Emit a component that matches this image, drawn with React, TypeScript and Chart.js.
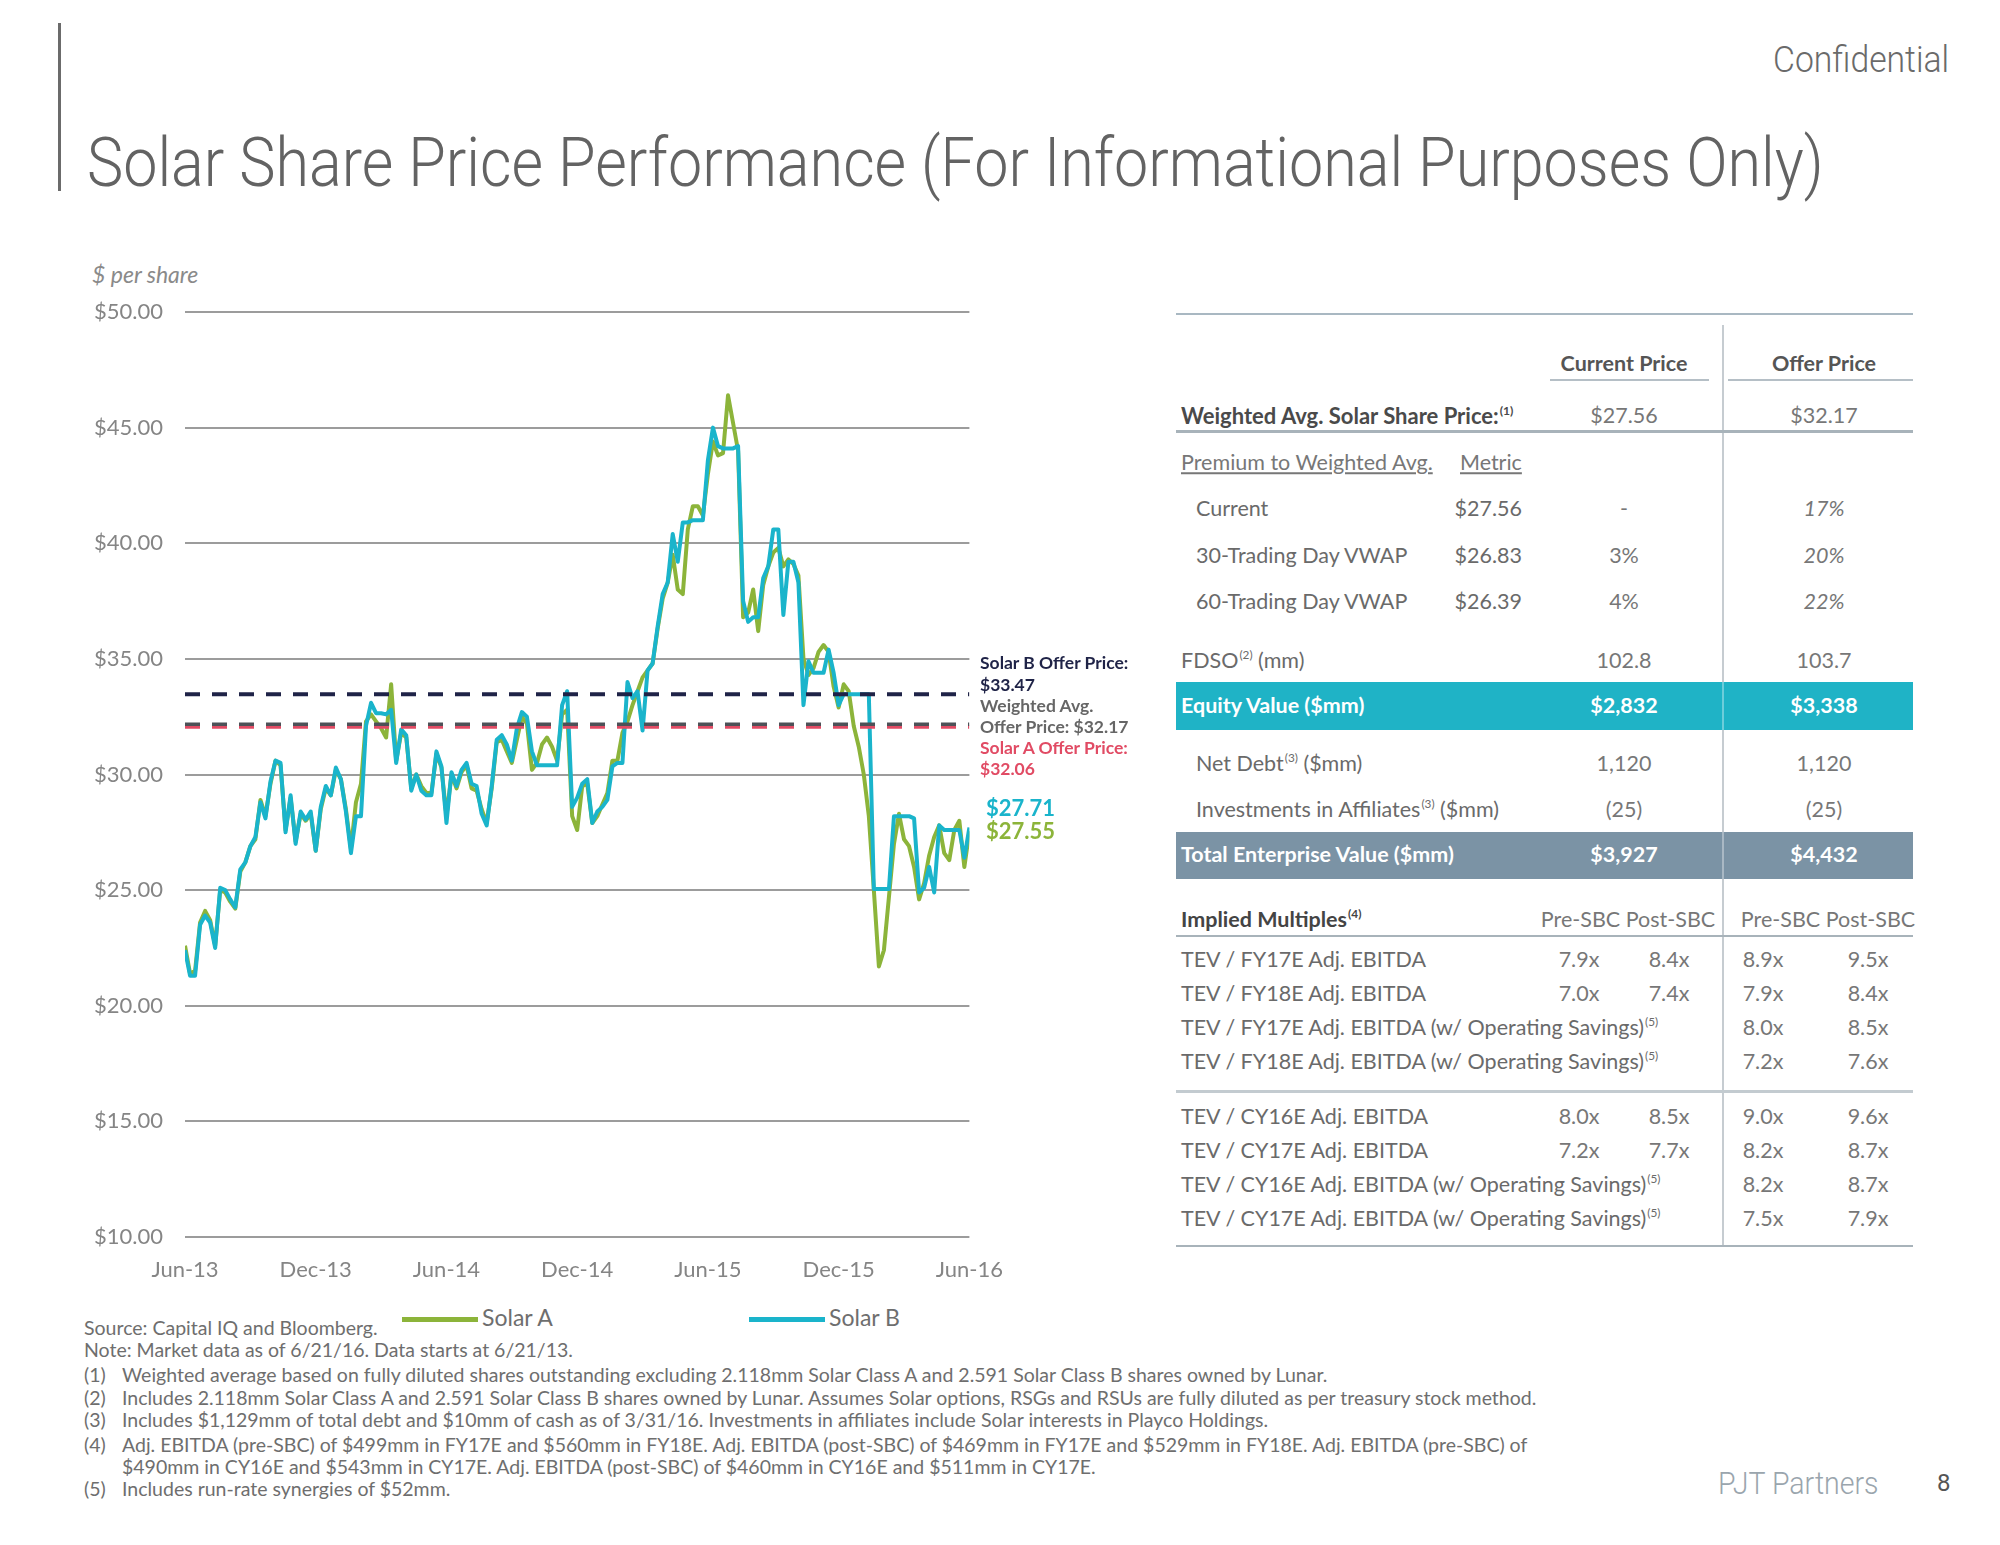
import React, { useEffect, useLayoutEffect, useRef, useState } from "react";
import { Chart, registerables } from "chart.js";
Chart.register(...registerables);

// ---------- chart data ----------
const xTickLabels = ["Jun-13", "Dec-13", "Jun-14", "Dec-14", "Jun-15", "Dec-15", "Jun-16"];
const weeksPerTick = 26;
const yMin = 10;
const yMax = 50;
const yStep = 5;

// weekly closes from 6/21/13 to 6/21/16
const solarA = [
  22.6, 21.4, 21.5, 23.6, 24.1, 23.7, 22.6, 25.0, 24.9, 24.5,
  24.2, 25.8, 26.2, 26.9, 27.2, 28.9, 28.2, 29.6, 30.6, 30.4,
  27.6, 29.0, 27.1, 28.3, 28.0, 28.3, 26.7, 28.5, 29.4, 29.1,
  30.2, 29.8, 28.5, 26.8, 28.8, 29.6, 32.3, 32.6, 32.3, 32.0,
  31.6, 33.9, 30.6, 31.8, 31.6, 29.4, 30.0, 29.5, 29.2, 29.2,
  30.9, 30.3, 28.2, 30.0, 29.4, 30.1, 30.4, 29.4, 29.3, 28.5,
  27.9, 29.4, 31.4, 31.5, 31.0, 30.5, 31.5, 32.5, 32.2, 30.2,
  30.5, 31.3, 31.6, 31.2, 30.6, 32.6, 32.8, 28.2, 27.6, 29.5,
  29.6, 27.9, 28.2, 28.7, 29.2, 30.6, 30.6, 31.8, 32.3, 33.0,
  33.6, 34.2, 34.5, 34.8, 36.3, 37.6, 38.3, 39.5, 38.0, 37.8,
  40.6, 41.6, 41.6, 41.2, 43.0, 44.4, 43.8, 43.9, 46.4, 45.2,
  44.0, 36.8, 37.0, 38.0, 36.2, 38.2, 39.0, 39.6, 39.8, 39.0,
  39.3, 39.1, 38.6, 35.0, 34.3, 34.6, 35.3, 35.6, 35.3, 33.8,
  32.9, 33.9, 33.6, 32.1, 31.2, 30.0, 28.2, 25.0, 21.7, 22.4,
  24.7, 27.0, 28.3, 27.2, 26.9, 26.0, 24.6, 25.3, 26.5, 27.3,
  27.8, 26.6, 26.3, 27.6, 28.0, 26.0, 27.55,
];
const solarB = [
  22.4, 21.3, 21.3, 23.5, 23.9, 23.6, 22.5, 25.1, 25.0, 24.6,
  24.25, 25.9, 26.2, 26.9, 27.3, 28.8, 28.1, 29.7, 30.6, 30.5,
  27.5, 29.1, 27.0, 28.4, 28.05, 28.4, 26.7, 28.6, 29.5, 29.1,
  30.3, 29.8, 28.4, 26.6, 28.2, 28.2, 32.1, 33.1, 32.65, 32.65,
  32.6, 32.8, 30.5, 31.95, 31.7, 29.3, 30.0, 29.3, 29.1, 29.1,
  31.0, 30.35, 27.9, 30.1, 29.5, 30.2, 30.5, 29.6, 29.5, 28.3,
  27.8, 29.5, 31.5, 31.7, 31.3, 30.6, 32.0, 32.7, 32.5, 31.0,
  30.4, 30.4, 30.4, 30.4, 30.4, 33.0, 33.6, 28.6, 29.0, 29.6,
  29.8, 27.9, 28.4, 28.6, 28.9, 30.35, 30.5, 30.5, 34.0, 33.3,
  33.6, 31.9, 34.5, 34.8, 36.4, 37.8, 38.3, 40.4, 39.2, 40.9,
  40.9, 41.0, 41.0, 41.0, 43.6, 45.0, 44.2, 44.1, 44.1, 44.1,
  44.2, 37.5, 36.6, 36.8, 36.8, 38.5, 39.0, 40.6, 40.6, 36.9,
  39.2, 39.2, 38.3, 33.0, 34.9, 34.4, 34.4, 34.4, 35.4, 34.4,
  33.0, 33.47, 33.47, 33.47, 33.47, 33.47, 33.47, 25.05, 25.05, 25.05,
  25.05, 28.2, 28.2, 28.2, 28.2, 28.1, 24.9, 25.1, 26.0, 24.9,
  27.8, 27.6, 27.6, 27.6, 27.6, 26.4, 27.71,
];
const solarBOffer = 33.47;
const weightedOffer = 32.17;
const solarAOffer = 32.06;

// ---------- table data ----------
const premiumLabels = ["Current", "30-Trading Day VWAP", "60-Trading Day VWAP"];
const premiumMetrics = ["$27.56", "$26.83", "$26.39"];
const premiumCurrent = ["-", "3%", "4%"];
const premiumOffer = ["17%", "20%", "22%"];

const fyLabels = ["TEV / FY17E Adj. EBITDA", "TEV / FY18E Adj. EBITDA", "TEV / FY17E Adj. EBITDA (w/ Operating Savings)", "TEV / FY18E Adj. EBITDA (w/ Operating Savings)"];
const fySup = [false, false, true, true];
const fyCurPre = ["7.9x", "7.0x", "", ""];
const fyCurPost = ["8.4x", "7.4x", "", ""];
const fyOffPre = ["8.9x", "7.9x", "8.0x", "7.2x"];
const fyOffPost = ["9.5x", "8.4x", "8.5x", "7.6x"];

const cyLabels = ["TEV / CY16E Adj. EBITDA", "TEV / CY17E Adj. EBITDA", "TEV / CY16E Adj. EBITDA (w/ Operating Savings)", "TEV / CY17E Adj. EBITDA (w/ Operating Savings)"];
const cySup = [false, false, true, true];
const cyCurPre = ["8.0x", "7.2x", "", ""];
const cyCurPost = ["8.5x", "7.7x", "", ""];
const cyOffPre = ["9.0x", "8.2x", "8.2x", "7.5x"];
const cyOffPost = ["9.6x", "8.7x", "8.7x", "7.9x"];

const footnotes = [
  ["(1)", "Weighted average based on fully diluted shares outstanding excluding 2.118mm Solar Class A and 2.591 Solar Class B shares owned by Lunar."],
  ["(2)", "Includes 2.118mm Solar Class A and 2.591 Solar Class B shares owned by Lunar. Assumes Solar options, RSGs and RSUs are fully diluted as per treasury stock method."],
  ["(3)", "Includes $1,129mm of total debt and $10mm of cash as of 3/31/16. Investments in affiliates include Solar interests in Playco Holdings."],
  ["(4)", "Adj. EBITDA (pre-SBC) of $499mm in FY17E and $560mm in FY18E. Adj. EBITDA (post-SBC) of $469mm in FY17E and $529mm in FY18E. Adj. EBITDA (pre-SBC) of"],
  ["", "$490mm in CY16E and $543mm in CY17E. Adj. EBITDA (post-SBC) of $460mm in CY16E and $511mm in CY17E."],
  ["(5)", "Includes run-rate synergies of $52mm."],
];

// ---------- styles ----------
const GREEN = "#8cb43a";
const TEAL = "#1ab4cb";
const NAVY = "#1f2347";
const DGRAY = "#4d5157";
const RED = "#e14b64";
const TF = "Lato, 'Noto Sans', sans-serif";
const HF = "Roboto, 'Noto Sans', sans-serif";
const TS = 21.5; // table font size
const FS = 19.5; // footnote font size

type TxtProps = {
  x: number; y: number; children?: React.ReactNode; align?: "left" | "center" | "right";
  size?: number; weight?: number; color?: string; family?: string; style?: React.CSSProperties;
};
const Txt = ({ x, y, children, align = "left", size = TS, weight = 400, color = "#6e6e6e", family = TF, style = {} }: TxtProps) => {
  const tx = align === "left" ? "0" : align === "center" ? "-50%" : "-100%";
  return (
    <div style={{ position: "absolute", left: x, top: y, transform: `translate(${tx}, -50%)`, fontSize: size, fontWeight: weight, color, fontFamily: family, whiteSpace: "nowrap", lineHeight: 1, ...style }}>
      {children}
    </div>
  );
};

const FitText = ({ x, y, width, children, size, weight = 300, color = "#666", family = HF, style = {} }: any) => {
  const ref = useRef<HTMLSpanElement>(null);
  const [s, setS] = useState(1);
  useLayoutEffect(() => {
    if (ref.current) {
      const w = ref.current.offsetWidth;
      if (w > 0) setS(width / w);
    }
  }, [width]);
  return (
    <div style={{ position: "absolute", left: x, top: y, transform: `translateY(-50%) scaleX(${s})`, transformOrigin: "left center", fontSize: size, fontWeight: weight, color, fontFamily: family, whiteSpace: "nowrap", lineHeight: 1, ...style }}>
      <span ref={ref} style={{ display: "inline-block" }}>{children}</span>
    </div>
  );
};

const Rule = ({ x, y, w, h = 2, color = "#a9b5bd" }: { x: number; y: number; w: number; h?: number; color?: string }) => (
  <div style={{ position: "absolute", left: x, top: y - h / 2, width: w, height: h, background: color }} />
);

const Sup = ({ children }: { children: React.ReactNode }) => (
  <span style={{ fontSize: "0.55em", position: "relative", top: "-0.75em", marginLeft: 1 }}>{children}</span>
);

const CANVAS_W = 1023;

function PriceChart() {
  const ref = useRef<HTMLCanvasElement>(null);
  useEffect(() => {
    const canvas = ref.current;
    if (!canvas) return;
    const last = solarA.length - 1;
    const toPts = (arr: number[]) => arr.map((y, i) => ({ x: i, y }));
    const flat = (v: number) => [{ x: 0, y: v }, { x: last, y: v }];
    const tickFont = { family: TF, size: 22 };
    const chart = new Chart(canvas, {
      type: "line",
      data: {
        datasets: [
          { label: "Solar B Offer", data: flat(solarBOffer), borderColor: NAVY, borderWidth: 4, borderDash: [15, 12], pointRadius: 0 },
          { label: "Weighted Avg. Offer", data: flat(weightedOffer), borderColor: DGRAY, borderWidth: 3.5, borderDash: [15, 12], pointRadius: 0 },
          { label: "Solar A Offer", data: flat(solarAOffer), borderColor: RED, borderWidth: 4, borderDash: [15, 12], pointRadius: 0 },
          { label: "Solar B", data: toPts(solarB), borderColor: TEAL, borderWidth: 4, pointRadius: 0, borderJoinStyle: "round" },
          { label: "Solar A", data: toPts(solarA), borderColor: GREEN, borderWidth: 4, pointRadius: 0, borderJoinStyle: "round" },
        ] as any,
      },
      options: {
        animation: false,
        responsive: false,
        maintainAspectRatio: false,
        layout: { autoPadding: false, padding: { top: 62, right: 31, left: 0, bottom: 0 } },
        plugins: { legend: { display: false }, tooltip: { enabled: false } },
        elements: { line: { tension: 0 } },
        scales: {
          x: {
            type: "linear",
            min: 0,
            max: last,
            grid: { display: false, drawTicks: false },
            border: { display: false },
            ticks: {
              stepSize: weeksPerTick,
              autoSkip: false,
              maxRotation: 0,
              padding: 20,
              color: "#858585",
              font: tickFont,
              callback: (v: any) => {
                const k = Math.round(Number(v) / weeksPerTick);
                return Math.abs(Number(v) - k * weeksPerTick) < 1e-6 ? xTickLabels[k] : "";
              },
            },
            afterFit: (s: any) => { s.height = 55; },
          },
          y: {
            min: yMin,
            max: yMax,
            grid: { color: "#9c9c9c", lineWidth: 2, drawTicks: false },
            border: { display: false },
            ticks: {
              stepSize: yStep,
              padding: 22,
              color: "#858585",
              font: tickFont,
              callback: (v: any) => "$" + Number(v).toFixed(2),
            },
            afterFit: (s: any) => { s.width = 185; },
          },
        },
      } as any,
    });
    return () => chart.destroy();
  }, []);
  return <canvas ref={ref} width={CANVAS_W} height={1042} style={{ position: "absolute", left: 0, top: 250, width: CANVAS_W, height: 1042 }} />;
}

export default function App() {
  const cCur = 1624;
  const cOff = 1824;
  const mx = [1579, 1669, 1763, 1868];
  const fyY = [960, 994, 1028, 1062];
  const cyY = [1117, 1151, 1185, 1219];
  const premY = [509, 556, 602];
  const lblColor = "#6a6a6a";
  const valColor = "#777";

  const multRows = (labels: string[], sup: boolean[], cp: string[], cpo: string[], op: string[], opo: string[], ys: number[]) =>
    labels.map((l, i) => (
      <React.Fragment key={l}>
        <Txt x={1181} y={ys[i]} color={lblColor}>{l}{sup[i] ? <Sup>(5)</Sup> : null}</Txt>
        {cp[i] ? <Txt x={mx[0]} y={ys[i]} align="center" color={valColor}>{cp[i]}</Txt> : null}
        {cpo[i] ? <Txt x={mx[1]} y={ys[i]} align="center" color={valColor}>{cpo[i]}</Txt> : null}
        <Txt x={mx[2]} y={ys[i]} align="center" color={valColor}>{op[i]}</Txt>
        <Txt x={mx[3]} y={ys[i]} align="center" color={valColor}>{opo[i]}</Txt>
      </React.Fragment>
    ));

  return (
    <div style={{ position: "absolute", left: 0, top: 0, width: 2000, height: 1545, background: "#fff", overflow: "hidden" }}>
      {/* header */}
      <div style={{ position: "absolute", left: 58, top: 23, width: 3, height: 168, background: "#6b6b6b" }} />
      <FitText x={87} y={163} width={1737} size={68} weight={300} color="#636363">Solar Share Price Performance (For Informational Purposes Only)</FitText>
      <FitText x={1773} y={60} width={176} size={36} weight={300} color="#6a6a6a">Confidential</FitText>

      {/* chart */}
      <Txt x={92} y={274} size={23} color="#8a8a8a" style={{ fontStyle: "italic" }}>$ per share</Txt>
      <PriceChart />
      <Txt x={980} y={663} size={17.5} weight={700} color={NAVY}>Solar B Offer Price:</Txt>
      <Txt x={980} y={685} size={17.5} weight={700} color={NAVY}>${solarBOffer.toFixed(2)}</Txt>
      <Txt x={980} y={706} size={17.5} weight={700} color="#666">Weighted Avg.</Txt>
      <Txt x={980} y={727} size={17.5} weight={700} color="#666">Offer Price: ${weightedOffer.toFixed(2)}</Txt>
      <Txt x={980} y={748} size={17.5} weight={700} color={RED}>Solar A Offer Price:</Txt>
      <Txt x={980} y={769} size={17.5} weight={700} color={RED}>${solarAOffer.toFixed(2)}</Txt>
      <Txt x={986} y={808} size={22} weight={700} color={TEAL}>${solarB[solarB.length - 1].toFixed(2)}</Txt>
      <Txt x={986} y={831} size={22} weight={700} color={GREEN}>${solarA[solarA.length - 1].toFixed(2)}</Txt>

      {/* legend */}
      <div style={{ position: "absolute", left: 402, top: 1317, width: 76, height: 5, background: GREEN }} />
      <Txt x={482} y={1317} size={23} color="#6e6e6e">Solar A</Txt>
      <div style={{ position: "absolute", left: 749, top: 1317, width: 76, height: 5, background: TEAL }} />
      <Txt x={829} y={1317} size={23} color="#6e6e6e">Solar B</Txt>

      {/* footnotes */}
      <Txt x={84} y={1328} size={FS} color="#6e6e6e">Source: Capital IQ and Bloomberg.</Txt>
      <Txt x={84} y={1350} size={FS} color="#6e6e6e">Note: Market data as of 6/21/16. Data starts at 6/21/13.</Txt>
      {footnotes.map((f, i) => {
        const y = [1375, 1398, 1420, 1445, 1467, 1489][i];
        return (
          <React.Fragment key={i}>
            {f[0] ? <Txt x={84} y={y} size={FS} color="#6e6e6e">{f[0]}</Txt> : null}
            <Txt x={122} y={y} size={FS} color="#6e6e6e">{f[1]}</Txt>
          </React.Fragment>
        );
      })}

      {/* table */}
      <Rule x={1176} y={314} w={737} h={2} color="#a9b8c2" />
      <div style={{ position: "absolute", left: 1722, top: 325, width: 1.5, height: 920, background: "#c6ccd1" }} />
      <Txt x={cCur} y={364} align="center" weight={700} color="#555">Current Price</Txt>
      <Txt x={cOff} y={364} align="center" weight={700} color="#555">Offer Price</Txt>
      <Rule x={1550} y={380} w={159} h={2} color="#b5bfc6" />
      <Rule x={1728} y={380} w={185} h={2} color="#b5bfc6" />

      <Txt x={1181} y={416} size={22} weight={700} color="#4a4a4a">Weighted Avg. Solar Share Price:<Sup>(1)</Sup></Txt>
      <Txt x={cCur} y={416} align="center" color={valColor}>$27.56</Txt>
      <Txt x={cOff} y={416} align="center" color={valColor}>${weightedOffer.toFixed(2)}</Txt>
      <Rule x={1176} y={431} w={737} h={3} color="#a8b3ba" />

      <Txt x={1181} y={463} color="#777" style={{ textDecoration: "underline" }}>Premium to Weighted Avg.</Txt>
      <Txt x={1460} y={463} color="#777" style={{ textDecoration: "underline" }}>Metric</Txt>
      {premiumLabels.map((l, i) => (
        <React.Fragment key={l}>
          <Txt x={1196} y={premY[i]} color={lblColor}>{l}</Txt>
          <Txt x={1522} y={premY[i]} align="right" color={lblColor}>{premiumMetrics[i]}</Txt>
          <Txt x={cCur} y={premY[i]} align="center" color={valColor}>{premiumCurrent[i]}</Txt>
          <Txt x={cOff} y={premY[i]} align="center" color={valColor} style={{ fontStyle: "italic" }}>{premiumOffer[i]}</Txt>
        </React.Fragment>
      ))}

      <Txt x={1181} y={661} color={lblColor}>FDSO<Sup>(2)</Sup> (mm)</Txt>
      <Txt x={cCur} y={661} align="center" color={valColor}>102.8</Txt>
      <Txt x={cOff} y={661} align="center" color={valColor}>103.7</Txt>

      <div style={{ position: "absolute", left: 1176, top: 682, width: 737, height: 48, background: "#1fb3c6" }} />
      <div style={{ position: "absolute", left: 1722, top: 682, width: 1.5, height: 48, background: "rgba(255,255,255,0.35)" }} />
      <Txt x={1181} y={706} weight={700} color="#fff">Equity Value ($mm)</Txt>
      <Txt x={cCur} y={706} align="center" weight={700} color="#fff">$2,832</Txt>
      <Txt x={cOff} y={706} align="center" weight={700} color="#fff">$3,338</Txt>

      <Txt x={1196} y={764} color={lblColor}>Net Debt<Sup>(3)</Sup> ($mm)</Txt>
      <Txt x={cCur} y={764} align="center" color={valColor}>1,120</Txt>
      <Txt x={cOff} y={764} align="center" color={valColor}>1,120</Txt>
      <Txt x={1196} y={810} color={lblColor}>Investments in Affiliates<Sup>(3)</Sup> ($mm)</Txt>
      <Txt x={cCur} y={810} align="center" color={valColor}>(25)</Txt>
      <Txt x={cOff} y={810} align="center" color={valColor}>(25)</Txt>

      <div style={{ position: "absolute", left: 1176, top: 832, width: 737, height: 47, background: "#7b93a5" }} />
      <div style={{ position: "absolute", left: 1722, top: 832, width: 1.5, height: 47, background: "rgba(255,255,255,0.35)" }} />
      <Txt x={1181} y={855} weight={700} color="#fff">Total Enterprise Value ($mm)</Txt>
      <Txt x={cCur} y={855} align="center" weight={700} color="#fff">$3,927</Txt>
      <Txt x={cOff} y={855} align="center" weight={700} color="#fff">$4,432</Txt>

      <Txt x={1181} y={920} weight={700} color="#444">Implied Multiples<Sup>(4)</Sup></Txt>
      <Txt x={1628} y={920} align="center" color="#777">Pre-SBC Post-SBC</Txt>
      <Txt x={1828} y={920} align="center" color="#777">Pre-SBC Post-SBC</Txt>
      <Rule x={1176} y={936} w={737} h={2} color="#a8b3ba" />
      {multRows(fyLabels, fySup, fyCurPre, fyCurPost, fyOffPre, fyOffPost, fyY)}
      <Rule x={1176} y={1091} w={737} h={3} color="#c3cbd0" />
      {multRows(cyLabels, cySup, cyCurPre, cyCurPost, cyOffPre, cyOffPost, cyY)}
      <Rule x={1176} y={1246} w={737} h={2} color="#a8b3ba" />

      {/* footer */}
      <FitText x={1718} y={1483} width={161} size={31} weight={300} color="#9aa5ad">PJT Partners</FitText>
      <Txt x={1937} y={1483} size={24} color="#555" family={HF}>8</Txt>
    </div>
  );
}
